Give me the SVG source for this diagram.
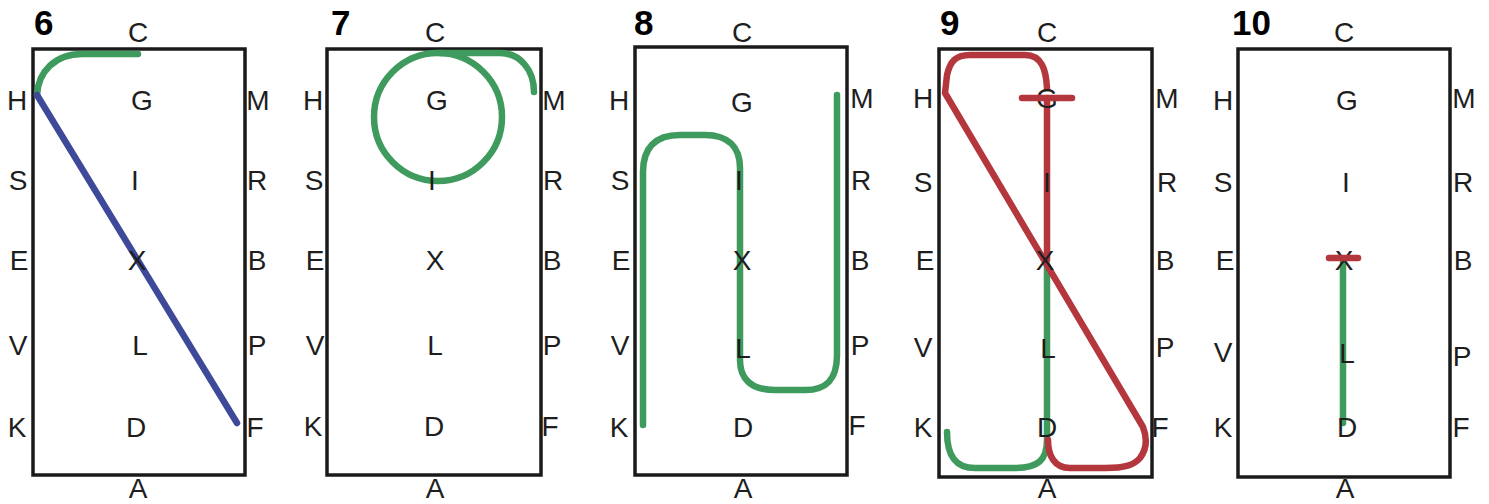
<svg xmlns="http://www.w3.org/2000/svg" width="1489" height="504" viewBox="0 0 1489 504">
<style>
.arena{fill:none;stroke:#1a1a1a;stroke-width:3.5}
.lt{font-family:"Liberation Sans",Arial,sans-serif;font-size:28px;fill:#1e1e1e;text-anchor:middle}
.num{font-family:"Liberation Sans",Arial,sans-serif;font-size:35px;font-weight:bold;fill:#000}
.g{fill:none;stroke:#3f9b5d;stroke-width:6.5;stroke-linecap:round;stroke-linejoin:round}
.r{fill:none;stroke:#b3373d;stroke-width:6.5;stroke-linecap:round;stroke-linejoin:round}
.b{fill:none;stroke:#3e4999;stroke-width:6.5;stroke-linecap:round}
</style>
<rect width="1489" height="504" fill="#fff"/>

<g id="panel6">
<rect class="arena" x="33" y="49" width="212" height="426"/>
<text class="num" x="34" y="35">6</text>
<g id="connectors6">
<path class="g" d="M138,54 H82 C55,54 38,72 37,95"/>
<path class="b" d="M37,95 L237,423"/>
</g>
<text class="lt" x="138" y="42">C</text>
<text class="lt" x="138" y="498">A</text>
<text class="lt" x="17" y="110">H</text><text class="lt" x="142" y="110">G</text><text class="lt" x="258" y="110">M</text>
<text class="lt" x="18" y="190">S</text><text class="lt" x="135" y="190">I</text><text class="lt" x="257" y="190">R</text>
<text class="lt" x="19" y="270">E</text><text class="lt" x="137" y="270">X</text><text class="lt" x="257" y="270">B</text>
<text class="lt" x="18" y="355">V</text><text class="lt" x="140" y="355">L</text><text class="lt" x="257" y="355">P</text>
<text class="lt" x="17" y="437">K</text><text class="lt" x="136" y="437">D</text><text class="lt" x="255" y="437">F</text>
</g>

<g id="panel7">
<rect class="arena" x="327" y="49" width="214" height="426"/>
<text class="num" x="331" y="35">7</text>
<g id="connectors7">
<circle class="g" cx="438" cy="117" r="64"/>
<path class="g" d="M440,53 H500 C520,53 534,70 534,92"/>
</g>
<text class="lt" x="435" y="42">C</text>
<text class="lt" x="435" y="498">A</text>
<text class="lt" x="313" y="110">H</text><text class="lt" x="437" y="110">G</text><text class="lt" x="554" y="110">M</text>
<text class="lt" x="314" y="190">S</text><text class="lt" x="432" y="190">I</text><text class="lt" x="553" y="190">R</text>
<text class="lt" x="315" y="270">E</text><text class="lt" x="435" y="270">X</text><text class="lt" x="552" y="270">B</text>
<text class="lt" x="315" y="355">V</text><text class="lt" x="435" y="355">L</text><text class="lt" x="552" y="355">P</text>
<text class="lt" x="313" y="436">K</text><text class="lt" x="434" y="436">D</text><text class="lt" x="550" y="436">F</text>
</g>

<g id="panel8">
<rect class="arena" x="635" y="47" width="212" height="428"/>
<text class="num" x="634" y="35">8</text>
<g id="connectors8">
<path class="g" d="M643,425 V172 C643,148 655,135 680,135 H705 C728,135 740,147 740,168 V360 C740,380 752,390 775,390 H805 C826,390 837,380 837,355 V95"/>
</g>
<text class="lt" x="742" y="42">C</text>
<text class="lt" x="743" y="498">A</text>
<text class="lt" x="619" y="110">H</text><text class="lt" x="742" y="112">G</text><text class="lt" x="862" y="108">M</text>
<text class="lt" x="620" y="190">S</text><text class="lt" x="739" y="190">I</text><text class="lt" x="861" y="190">R</text>
<text class="lt" x="621" y="270">E</text><text class="lt" x="742" y="270">X</text><text class="lt" x="860" y="270">B</text>
<text class="lt" x="620" y="355">V</text><text class="lt" x="743" y="358">L</text><text class="lt" x="860" y="355">P</text>
<text class="lt" x="619" y="437">K</text><text class="lt" x="743" y="437">D</text><text class="lt" x="857" y="435">F</text>
</g>

<g id="panel9">
<rect class="arena" x="939" y="49" width="213" height="428"/>
<text class="num" x="940" y="35">9</text>
<g id="connectors9">
<path class="g" d="M1047,265 V440 C1047,460 1038,468 1015,468 H975 C955,468 947,455 947,432"/>
<path class="r" d="M1047,260 V98 M1047,88 C1046,70 1042,55 1025,55 H970 C955,55 950,62 947,75 L945,93 L1143,427 C1148,440 1146,450 1140,458 C1134,465 1125,468 1105,468 H1070 C1054,468 1048,455 1048,440"/>
</g>
<text class="lt" x="1047" y="42">C</text>
<text class="lt" x="1047" y="498">A</text>
<text class="lt" x="923" y="108">H</text><text class="lt" x="1047" y="108">G</text><text class="lt" x="1167" y="108">M</text>
<text class="lt" x="923" y="192">S</text><text class="lt" x="1047" y="192">I</text><text class="lt" x="1167" y="192">R</text>
<text class="lt" x="925" y="270">E</text><text class="lt" x="1045" y="270">X</text><text class="lt" x="1165" y="270">B</text>
<text class="lt" x="923" y="357">V</text><text class="lt" x="1048" y="358">L</text><text class="lt" x="1165" y="357">P</text>
<text class="lt" x="923" y="437">K</text><text class="lt" x="1047" y="437">D</text><text class="lt" x="1160" y="437">F</text>
<path class="r" d="M1022,98 H1072"/>
</g>

<g id="panel10">
<rect class="arena" x="1238" y="49" width="212" height="428"/>
<text class="num" x="1232" y="35">10</text>
<g id="connectors10">
<path class="g" d="M1343,262 V423"/>
</g>
<text class="lt" x="1344" y="42">C</text>
<text class="lt" x="1345" y="498">A</text>
<text class="lt" x="1223" y="110">H</text><text class="lt" x="1347" y="110">G</text><text class="lt" x="1464" y="108">M</text>
<text class="lt" x="1223" y="192">S</text><text class="lt" x="1346" y="192">I</text><text class="lt" x="1463" y="192">R</text>
<text class="lt" x="1225" y="270">E</text><text class="lt" x="1344" y="270">X</text><text class="lt" x="1463" y="270">B</text>
<text class="lt" x="1223" y="362">V</text><text class="lt" x="1347" y="363">L</text><text class="lt" x="1462" y="366">P</text>
<text class="lt" x="1223" y="437">K</text><text class="lt" x="1347" y="437">D</text><text class="lt" x="1461" y="437">F</text>
<path class="r" d="M1329,258 H1358"/>
</g>
</svg>
